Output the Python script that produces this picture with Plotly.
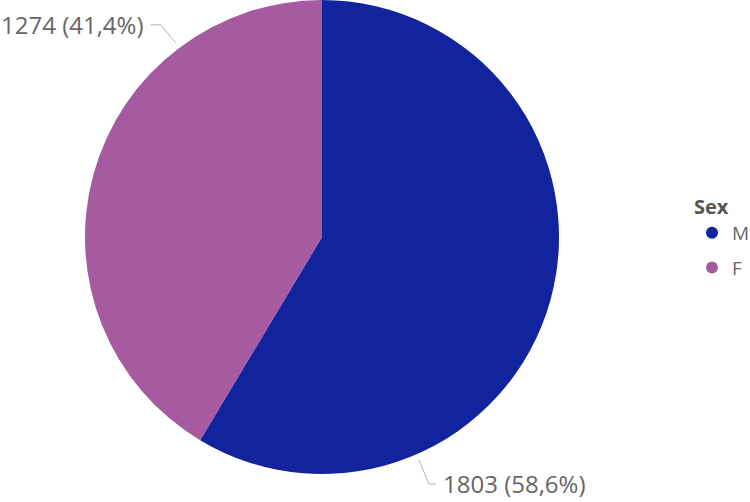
import math
import plotly.graph_objects as go

sexes = ["M", "F"]
counts = [1803, 1274]
colors = ["#12239E", "#A65AA0"]

# label leader styling: start angle (deg clockwise from top), diagonal dx/dy, horizontal run (px)
leader_angle = [156.5, 323]
leader_diag = [(10, 24), (15, 18)]
leader_run = [7, 10]

total = sum(counts)
texts = [f"{c} ({c / total * 100:.1f}%)".replace(".", ",") for c in counts]

W, H = 750, 502
ml, mr, mt, mb = 85, 191, 0, 28
pw, ph = W - ml - mr, H - mt - mb
cx, cy, r = 0.5, 0.5, 0.5  # pie centre/radius in paper units (square domain)

fig = go.Figure()
fig.add_trace(go.Pie(labels=sexes, values=counts, sort=False, direction="clockwise",
                     rotation=0, marker=dict(colors=colors), textinfo="none",
                     hoverinfo="label+value+percent", showlegend=False))

# legend with round markers
for s, col in zip(sexes, colors):
    fig.add_trace(go.Scatter(x=[None], y=[None], mode="markers", name=s, legendgroup=s,
                             marker=dict(color=col, size=11, symbol="circle")))

shapes, annotations = [], []
for ang, (ddx, ddy), run, txt in zip(leader_angle, leader_diag, leader_run, texts):
    a = math.radians(ang)
    x0 = cx + (r + 0.013) * math.sin(a)
    y0 = cy + (r + 0.013) * math.cos(a)
    side = 1 if math.sin(a) > 0 else -1
    up = 1 if math.cos(a) > 0 else -1
    x1 = x0 + side * ddx / pw
    y1 = y0 + up * ddy / ph
    x2 = x1 + side * run / pw
    shapes.append(dict(type="path", xref="paper", yref="paper",
                       path=f"M{x0},{y0} L{x1},{y1} L{x2},{y1}",
                       line=dict(color="#B3B3B3", width=1)))
    annotations.append(dict(xref="paper", yref="paper", x=x2 + side * 5 / pw, y=y1,
                            text=txt, showarrow=False,
                            xanchor="left" if side > 0 else "right", yanchor="middle",
                            font=dict(size=24, color="#666666")))

fig.update_layout(
    width=W, height=H,
    margin=dict(l=ml, r=mr, t=mt, b=mb, autoexpand=False),
    paper_bgcolor="white", plot_bgcolor="white",
    font=dict(family="Open Sans", color="#666666"),
    xaxis=dict(visible=False), yaxis=dict(visible=False),
    shapes=shapes, annotations=annotations,
    legend=dict(title=dict(text="<b>Sex</b>", font=dict(size=20, color="#555555")),
                font=dict(size=19, color="#666666"),
                x=(692 - ml) / pw, y=(ph - 188) / ph, xanchor="left", yanchor="top",
                tracegroupgap=7, itemsizing="constant"),
)

fig.write_html("out.html", config={"displayModeBar": False},
               post_script="document.body.style.margin='0';")
